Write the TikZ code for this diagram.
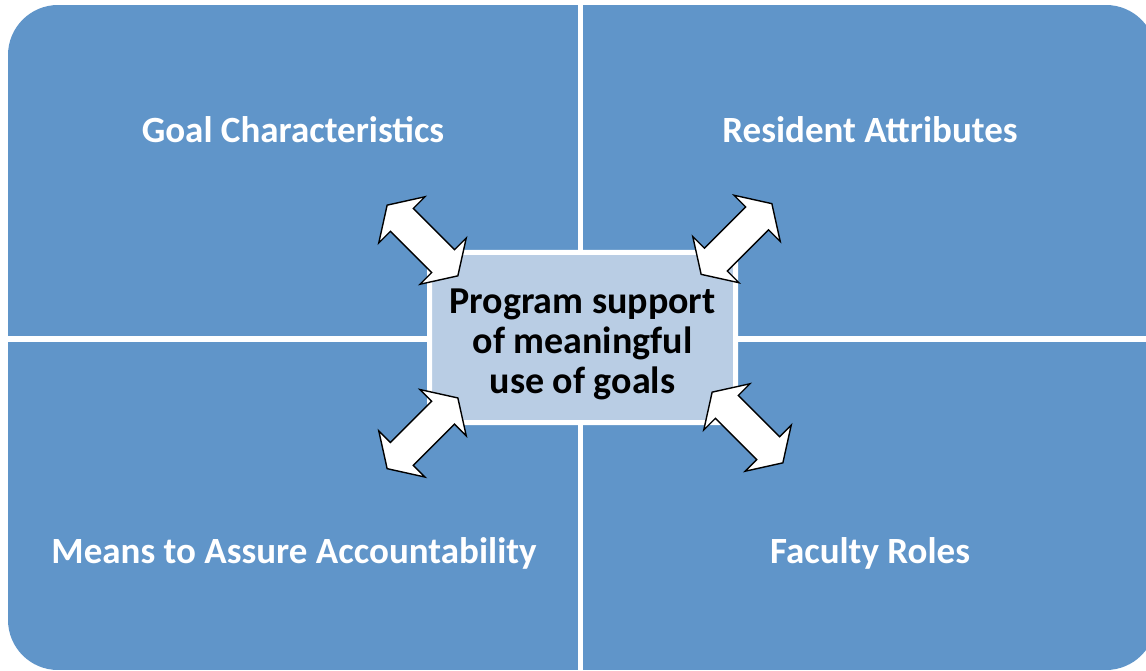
\documentclass[tikz,border=0pt]{standalone}
\usepackage{fontspec}
\setmainfont{Carlito}
\usetikzlibrary{shapes.arrows}
\definecolor{quadblue}{RGB}{96,149,201}
\definecolor{centerfill}{RGB}{185,205,228}
\tikzset{
  quadbox/.style={rectangle, fill=quadblue, draw=none, inner sep=0pt, outer sep=0pt, anchor=north west},
  qlabel/.style={text=white, font=\fontsize{37}{40}\selectfont\bfseries, anchor=base, inner sep=0pt},
  centerbox/.style={rectangle, rounded corners=10pt, fill=centerfill, draw=white, line width=5pt,
    minimum width=306pt, minimum height=170pt, inner sep=0pt},
  centertext/.style={align=center, inner sep=0pt, font=\fontsize{38}{40}\selectfont\bfseries, text=black},
  dblarrow/.style={double arrow, draw=black, fill=white, line width=1.4pt, inner xsep=0pt, inner ysep=15.5pt,
    minimum height=100pt, double arrow head extend=16.5pt,
    double arrow tip angle=115}
}
\begin{document}
\begin{tikzpicture}[x=1pt,y=-1pt]
\useasboundingbox (0,0) rectangle (1146,671);
\begin{scope}
  \clip[rounded corners=50pt] (8,5) rectangle (1156,670);
  \node[quadbox, minimum width=569.7pt, minimum height=331pt] (q1) at (8,5) {};
  \node[quadbox, minimum width=572.7pt, minimum height=331pt] (q2) at (583.3,5) {};
  \node[quadbox, minimum width=569.7pt, minimum height=328pt] (q3) at (8,342) {};
  \node[quadbox, minimum width=572.7pt, minimum height=328pt] (q4) at (583.3,342) {};
\end{scope}
\node[qlabel] (l1) at (293,143) {Goal Characteristics};
\node[qlabel] (l2) at (870,143) {Resident Attributes};
\node[qlabel] (l3) at (294,563) {Means to Assure Accountability};
\node[qlabel] (l4) at (870,563) {Faculty Roles};
\node[centerbox] (c) at (582.5,337.5) {};
\node[centertext] (ct) at (582.5,344) {Program support\\of meaningful\\use of goals};
\node[dblarrow, rotate=-45] (a1) at (422.5,240.5) {};
\node[dblarrow, rotate=45] (a2) at (736.5,239) {};
\node[dblarrow, rotate=45] (a3) at (422.5,433.3) {};
\node[dblarrow, rotate=-45] (a4) at (747.5,427.5) {};
\end{tikzpicture}
\end{document}
